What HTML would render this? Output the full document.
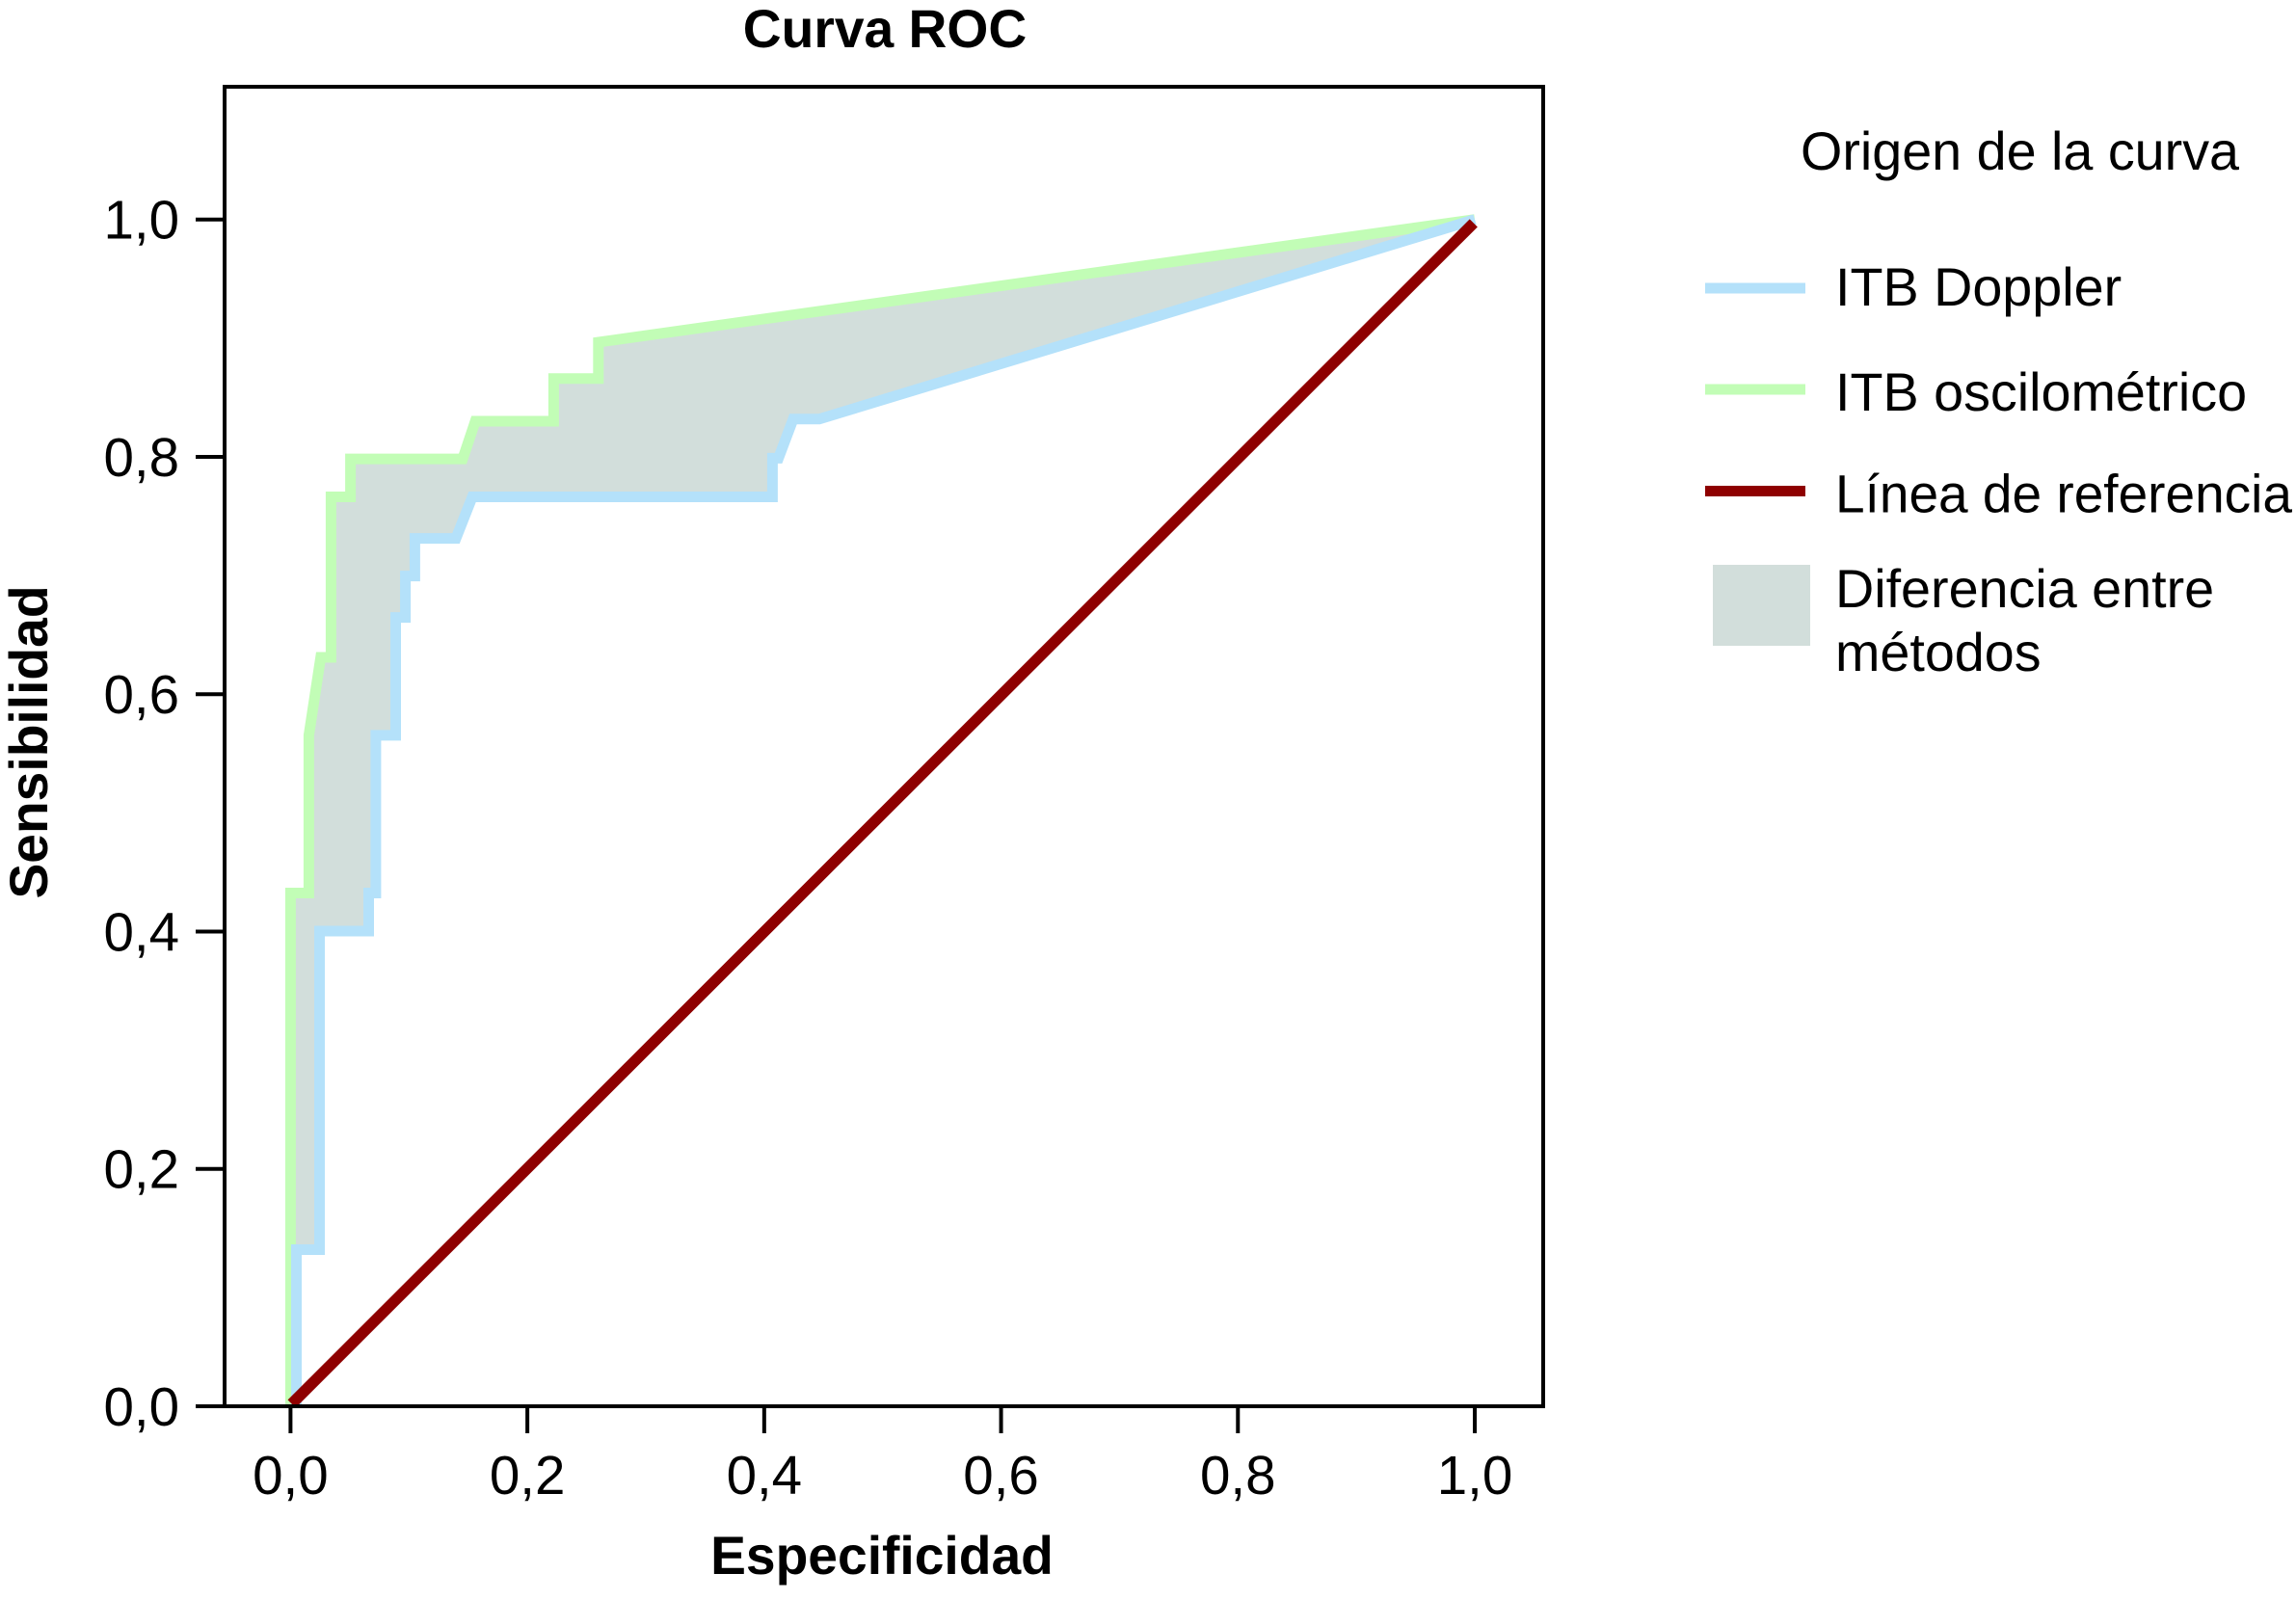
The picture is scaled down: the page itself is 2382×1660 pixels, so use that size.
<!DOCTYPE html>
<html lang="es">
<head>
<meta charset="utf-8">
<title>Curva ROC</title>
<style>
  html, body { margin: 0; padding: 0; background: #fff; }
  svg { display: block; }
  text { font-family: "Liberation Sans", sans-serif; fill: #000; }
  .bold { font-weight: bold; font-size: 55.2px; }
  .tick { font-size: 56.5px; }
  .legend { font-size: 55.7px; }
</style>
</head>
<body>
<svg id="chart" xmlns="http://www.w3.org/2000/svg" width="2382" height="1660" viewBox="0 0 2382 1660">
  <rect x="0" y="0" width="2382" height="1660" fill="#ffffff"/>
  <text class="bold" x="918" y="49" text-anchor="middle">Curva ROC</text>
  <text class="bold" x="915" y="1633" text-anchor="middle">Especificidad</text>
  <text class="bold" text-anchor="middle" transform="translate(49 770) rotate(-90)">Sensibilidad</text>

  <g id="plot"></g>

  <line x1="233" y1="88" x2="233" y2="1461" stroke="#000" stroke-width="4"/>
  <line x1="1601" y1="88" x2="1601" y2="1461" stroke="#000" stroke-width="4"/>
  <line x1="231" y1="90" x2="1603" y2="90" stroke="#000" stroke-width="4"/>
  <line x1="231" y1="1459" x2="1603" y2="1459" stroke="#000" stroke-width="4"/>

  <g id="axes"></g>

  <g>
    <text class="legend" x="1868" y="176">Origen de la curva</text>
    <rect x="1769" y="293.5" width="104" height="11" fill="#b4e1fa"/>
    <text class="legend" x="1904" y="317">ITB Doppler</text>
    <rect x="1769" y="398.5" width="104" height="11" fill="#c2fdb6"/>
    <text class="legend" x="1904" y="426">ITB oscilométrico</text>
    <rect x="1769" y="504" width="104" height="11" fill="#8e0000"/>
    <text class="legend" x="1904" y="531.5" textLength="474" lengthAdjust="spacingAndGlyphs">Línea de referencia</text>
    <rect x="1777" y="586" width="101" height="84" fill="#d2dedb"/>
    <text class="legend" x="1904" y="630">Diferencia entre</text>
    <text class="legend" x="1904" y="696">métodos</text>
  </g>
</svg>

<script>
const xTickValues = [0, 0.2, 0.4, 0.6, 0.8, 1];
const xTickLabels = ["0,0", "0,2", "0,4", "0,6", "0,8", "1,0"];
const yTickValues = [0, 0.2, 0.4, 0.6, 0.8, 1];
const yTickLabels = ["0,0", "0,2", "0,4", "0,6", "0,8", "1,0"];

const dopplerSpec = [0.005, 0.005, 0.0245, 0.0245, 0.066, 0.066, 0.072, 0.072, 0.0888, 0.0888, 0.097, 0.097, 0.105, 0.105, 0.1397, 0.1535, 0.407, 0.407, 0.412, 0.4245, 0.4465, 1];
const dopplerSens = [0, 0.132, 0.132, 0.4004, 0.4004, 0.4325, 0.4325, 0.5653, 0.5653, 0.6647, 0.6647, 0.6996, 0.6996, 0.7313, 0.7313, 0.7663, 0.7663, 0.7988, 0.7988, 0.8318, 0.8318, 1];

const oscSpec = [0, 0, 0.0155, 0.0155, 0.0255, 0.0342, 0.0342, 0.0506, 0.0506, 0.1454, 0.156, 0.2222, 0.2222, 0.26, 0.26, 1];
const oscSens = [0, 0.4325, 0.4325, 0.5653, 0.631, 0.631, 0.7663, 0.7663, 0.7983, 0.7983, 0.83, 0.83, 0.866, 0.866, 0.8966, 1];

const refSpec = [0.001, 0.999];
const refSens = [0.002, 0.997];

const SVG_NS = "http://www.w3.org/2000/svg";

function xScale(v) { return 301.4 + v * 1228.6; }
function yScale(v) { return 1459 - v * 1231.3; }

function pointList(xs, ys) {
  return xs.map(function (x, i) { return xScale(x).toFixed(1) + "," + yScale(ys[i]).toFixed(1); });
}

const plot = document.getElementById("plot");
const axes = document.getElementById("axes");

// difference band between the two curves
const band = document.createElementNS(SVG_NS, "polygon");


band.setAttribute("points", pointList(oscSpec, oscSens).concat(pointList(dopplerSpec, dopplerSens).reverse()).join(" "));
band.setAttribute("fill", "#d2dedb");
plot.appendChild(band);

const oscLine = document.createElementNS(SVG_NS, "polyline");


oscLine.setAttribute("points", pointList(oscSpec, oscSens).join(" "));
oscLine.setAttribute("fill", "none");
oscLine.setAttribute("stroke", "#c2fdb6");
oscLine.setAttribute("stroke-width", "11");
oscLine.setAttribute("stroke-miterlimit", "10");
plot.appendChild(oscLine);

const dopplerLine = document.createElementNS(SVG_NS, "polyline");


dopplerLine.setAttribute("points", pointList(dopplerSpec, dopplerSens).join(" "));
dopplerLine.setAttribute("fill", "none");
dopplerLine.setAttribute("stroke", "#b4e1fa");
dopplerLine.setAttribute("stroke-width", "11");
dopplerLine.setAttribute("stroke-miterlimit", "10");
plot.appendChild(dopplerLine);

const refLine = document.createElementNS(SVG_NS, "polyline");


refLine.setAttribute("points", pointList(refSpec, refSens).join(" "));
refLine.setAttribute("fill", "none");
refLine.setAttribute("stroke", "#8e0000");
refLine.setAttribute("stroke-width", "11.5");
plot.appendChild(refLine);

xTickValues.forEach(function (v, i) {
  const tick = document.createElementNS(SVG_NS, "line");
  
  
  tick.setAttribute("x1", xScale(v));
  tick.setAttribute("x2", xScale(v));
  tick.setAttribute("y1", 1459);
  tick.setAttribute("y2", 1487);
  tick.setAttribute("stroke", "#000");
  tick.setAttribute("stroke-width", "4");
  axes.appendChild(tick);

  const label = document.createElementNS(SVG_NS, "text");
  
  
  label.setAttribute("class", "tick");
  label.setAttribute("x", xScale(v));
  label.setAttribute("y", 1550);
  label.setAttribute("text-anchor", "middle");
  label.textContent = xTickLabels[i];
  axes.appendChild(label);
});

yTickValues.forEach(function (v, i) {
  const tick = document.createElementNS(SVG_NS, "line");
  
  
  tick.setAttribute("x1", 203);
  tick.setAttribute("x2", 232);
  tick.setAttribute("y1", yScale(v));
  tick.setAttribute("y2", yScale(v));
  tick.setAttribute("stroke", "#000");
  tick.setAttribute("stroke-width", "4");
  axes.appendChild(tick);

  const label = document.createElementNS(SVG_NS, "text");
  
  
  label.setAttribute("class", "tick");
  label.setAttribute("x", 186);
  label.setAttribute("y", yScale(v) + 20);
  label.setAttribute("text-anchor", "end");
  label.textContent = yTickLabels[i];
  axes.appendChild(label);
});
</script>
</body>
</html>
